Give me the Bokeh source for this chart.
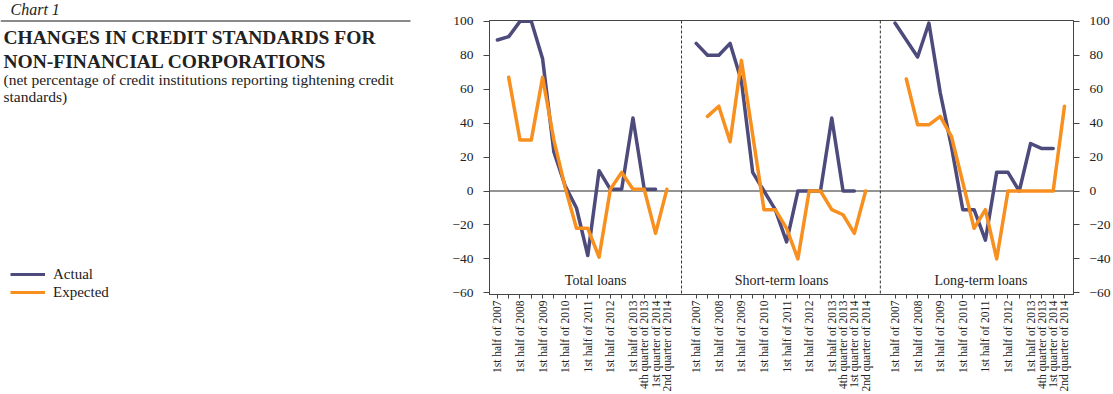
import numpy as np
from bokeh.plotting import figure
from bokeh.models import (Range1d, LinearAxis, FixedTicker, Span, Label, Legend,
                          LegendItem, BoxAnnotation)
from bokeh.layouts import row
from bokeh.embed import file_html
from bokeh.resources import INLINE
from bokeh.core.properties import value

# ---------------- data ----------------
tick_labels = ["1st half of 2007", "", "1st half of 2008", "", "1st half of 2009", "",
               "1st half of 2010", "", "1st half of 2011", "", "1st half of 2012", "",
               "1st half of 2013", "4th quarter of 2013", "1st quarter of 2014",
               "2nd quarter of 2014"]
panels = ["Total loans", "Short-term loans", "Long-term loans"]

# Actual: 1st half 2007 ... 1st quarter 2014 ; Expected: 2nd half 2007 ... 2nd quarter 2014
total_actual = [89, 91, 100, 100, 78, 23, 3, -10, -38, 12, 1, 1, 43, 1, 1]
total_expected = [67, 30, 30, 67, 30, 2, -22, -22, -39, 1, 11, 1, 1, -25, 1]
short_actual = [87, 80, 80, 87, 65, 11, 0, -11, -30, 0, 0, 0, 43, 0, 0]
short_expected = [44, 50, 29, 77, 33, -11, -11, -22, -40, 0, 0, -11, -14, -25, 0]
long_actual = [99, 89, 79, 99, 58, 26, -11, -11, -29, 11, 11, 0, 28, 25, 25]
long_expected = [66, 39, 39, 44, 32, 5, -22, -11, -40, 0, 0, 0, 0, 0, 50]

y_ticks = [-60, -40, -20, 0, 20, 40, 60, 80, 100]

actual_series = [total_actual, short_actual, long_actual]
expected_series = [total_expected, short_expected, long_expected]

ACT = "#4d4a7c"
EXP = "#f7901e"
FONT = "Liberation Serif"
TXT = "#222222"
AX = "#444444"

# ---------------- chart figure ----------------
n = len(tick_labels)
offsets = [0.0, 17.6, 35.2]
p = figure(width=665, height=394, x_range=Range1d(-0.7, 51.0), y_range=Range1d(-61, 100.5),
           output_backend="svg", toolbar_location=None, frame_align=False,
           min_border_left=41, min_border_right=38, min_border_top=20, min_border_bottom=98)
p.xgrid.visible = False
p.ygrid.visible = False
p.outline_line_color = AX
p.background_fill_color = None
p.border_fill_color = None

p.add_layout(Span(location=0, dimension="width", line_color="#707070", line_width=1.3,
                  level="underlay"))
for k in range(1, 3):
    sep = (offsets[k - 1] + n - 1 + offsets[k]) / 2
    p.add_layout(Span(location=sep, dimension="height", line_color="#333333",
                      line_width=1, line_dash="3 2"))

for k in range(3):
    xa = [offsets[k] + i for i in range(len(actual_series[k]))]
    xe = [offsets[k] + i + 1 for i in range(len(expected_series[k]))]
    p.line(xa, actual_series[k], line_color=ACT, line_width=3.5, line_cap="round",
           line_join="round")
    p.line(xe, expected_series[k], line_color=EXP, line_width=3.5, line_cap="round",
           line_join="round")

label_x = [offsets[0] + 8.7, offsets[1] + 7.55, offsets[2] + 7.6]
p.text(x=label_x, y=[-52.5] * 3, text=panels, text_font=value(FONT),
       text_font_size="14px", text_align="center", text_baseline="middle",
       text_color=TXT)

# x axis
xt, overrides = [], {}
for k in range(3):
    for i in range(n):
        t = offsets[k] + i
        xt.append(t)
        overrides[t] = tick_labels[i]
xa_ = p.xaxis[0]
xa_.ticker = FixedTicker(ticks=xt)
xa_.major_label_overrides = overrides
xa_.major_label_orientation = np.pi / 2
xa_.major_tick_in = 0
xa_.major_tick_out = 4
xa_.minor_tick_line_color = None
xa_.axis_line_color = AX
xa_.major_tick_line_color = AX
xa_.major_label_standoff = 2
xa_.major_label_text_font = FONT
xa_.major_label_text_font_size = "11.5px"
xa_.major_label_text_color = TXT

y_over = {v: str(v).replace("-", "\u2212") for v in y_ticks}


def style_y(ax, standoff):
    ax.ticker = FixedTicker(ticks=y_ticks)
    ax.major_label_overrides = y_over
    ax.major_tick_in = 0
    ax.major_tick_out = 6
    ax.minor_tick_line_color = None
    ax.axis_line_color = AX
    ax.major_tick_line_color = AX
    ax.major_label_standoff = standoff
    ax.major_label_text_font = FONT
    ax.major_label_text_font_size = "13.5px"
    ax.major_label_text_color = TXT


style_y(p.yaxis[0], 10)
ry = LinearAxis()
style_y(ry, 10)
p.add_layout(ry, "right")

# ---------------- left text panel (data units = page pixels) ----------------
left = figure(width=448, height=394, x_range=Range1d(0, 448), y_range=Range1d(394, 0),
              output_backend="svg", toolbar_location=None, min_border=0, frame_align=False,
              x_axis_type=None, y_axis_type=None)
left.outline_line_color = None
left.background_fill_color = None
left.border_fill_color = None

left.add_layout(Label(x=10, y=17, text="Chart 1", text_font=FONT, text_font_style="italic",
                      text_font_size="16px", text_color=TXT))
left.add_layout(BoxAnnotation(left=0, right=410, top=19.5, bottom=21.5, fill_color="#8a8a8a",
                              fill_alpha=1, line_color=None))
left.add_layout(Label(x=3, y=47, text="CHANGES IN CREDIT STANDARDS FOR", text_font=FONT,
                      text_font_style="bold", text_font_size="19.5px", text_color=TXT))
left.add_layout(Label(x=3, y=71, text="NON-FINANCIAL CORPORATIONS", text_font=FONT,
                      text_font_style="bold", text_font_size="19.5px", text_color=TXT))
left.add_layout(Label(x=3, y=87,
                      text="(net percentage of credit institutions reporting tightening credit",
                      text_font=FONT, text_font_size="15.5px", text_color=TXT))
left.add_layout(Label(x=3, y=104, text="standards)", text_font=FONT,
                      text_font_size="15.5px", text_color=TXT))

r_act = left.line([np.nan, np.nan], [np.nan, np.nan], line_color=ACT, line_width=3)
r_exp = left.line([np.nan, np.nan], [np.nan, np.nan], line_color=EXP, line_width=3)
leg = Legend(items=[LegendItem(label="Actual", renderers=[r_act]),
                    LegendItem(label="Expected", renderers=[r_exp])],
             location=(10, 93), padding=0, spacing=0, margin=0, glyph_width=35,
             glyph_height=18, label_height=18, label_standoff=8,
             label_text_font=FONT, label_text_font_size="15px", label_text_color=TXT,
             border_line_color=None, background_fill_alpha=0)
left.add_layout(leg)

layout = row(left, p)
open("out.html", "w").write(file_html(layout, INLINE))
